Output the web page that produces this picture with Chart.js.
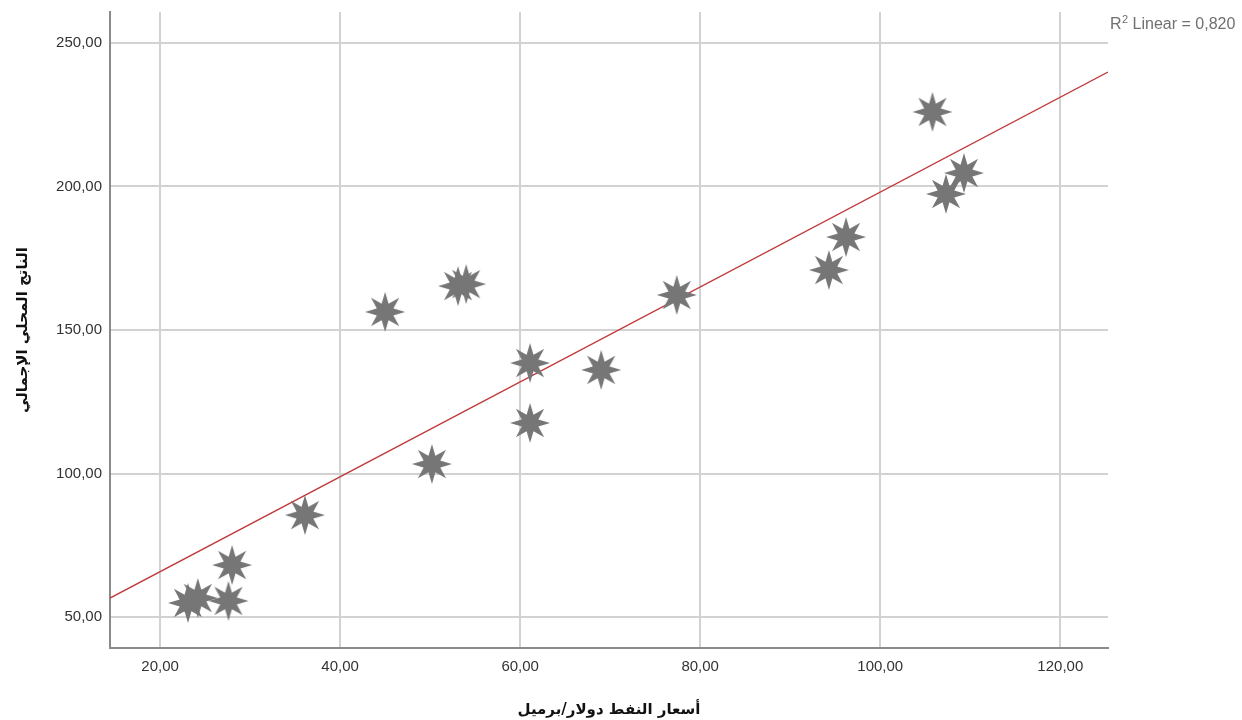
<!DOCTYPE html>
<html>
<head>
<meta charset="utf-8">
<script src="https://cdn.jsdelivr.net/npm/chart.js@4/dist/chart.umd.min.js"></script>
<style>
  html, body { margin: 0; padding: 0; background: #fff; }
  #wrap { width: 1242px; height: 720px; }
</style>
</head>
<body>
<div id="wrap"><canvas id="chart"></canvas></div>
<script>
// oil price (USD/barrel) vs GDP
const oilPrice = [23.1, 24.2, 27.6, 28.0, 36.1, 45.0, 50.2, 53.1, 54.0, 61.1, 61.1, 69.0, 77.4, 94.3, 96.2, 105.8, 107.3, 109.3];
const gdp      = [54.9, 56.6, 55.6, 68.1, 85.5, 156.3, 103.3, 165.3, 166.0, 138.5, 117.6, 136.1, 162.2, 170.9, 182.4, 226.0, 197.4, 204.7];

// fit line ends
const fitX = [14.44, 125.3];
const fitY = [56.6, 239.9];

const xTicks = [20, 40, 60, 80, 100, 120];
const yTicks = [50, 100, 150, 200, 250];

const xTitle = 'أسعار النفط دولار/برميل';
const yTitle = 'الناتج المحلي الإجمالي';
const r2Text = 'Linear = 0,820';

const fmt = v => v.toFixed(2).replace('.', ',');

// 8-point star marker
function makeStar(outer, inner, color) {
  const c = document.createElement('canvas');
  const size = outer * 2 + 2;
  c.width = size; c.height = size;
  const g = c.getContext('2d');
  g.translate(size / 2, size / 2);
  g.beginPath();
  for (let i = 0; i < 16; i++) {
    const r = i % 2 === 0 ? outer : inner;
    const a = -Math.PI / 2 + i * Math.PI / 8;
    const px = Math.cos(a) * r, py = Math.sin(a) * r;
    if (i === 0) g.moveTo(px, py); else g.lineTo(px, py);
  }
  g.closePath();
  g.fillStyle = color;
  g.fill();
  return c;
}
const star = makeStar(20, 9, '#767676');

const r2Label = {
  id: 'r2Label',
  afterDraw(chart) {
    const ctx = chart.ctx;
    ctx.save();
    ctx.fillStyle = '#707070';
    ctx.textBaseline = 'alphabetic';
    ctx.textAlign = 'left';
    let x = 1110, y = 29;
    ctx.font = '16px "Liberation Sans", Arial, sans-serif';
    ctx.fillText('R', x, y);
    x += ctx.measureText('R').width;
    ctx.font = '11px "Liberation Sans", Arial, sans-serif';
    ctx.fillText('2', x + 0.5, y - 6);
    x += ctx.measureText('2').width + 0.5;
    ctx.font = '16px "Liberation Sans", Arial, sans-serif';
    ctx.fillText(' ' + r2Text, x, y);
    ctx.restore();
  }
};

new Chart(document.getElementById('chart'), {
  type: 'scatter',
  data: {
    datasets: [
      {
        type: 'line',
        data: fitX.map((x, i) => ({ x: x, y: fitY[i] })),
        borderColor: '#c0393b',
        borderWidth: 1.3,
        pointRadius: 0,
        fill: false,
        order: 2
      },
      {
        data: oilPrice.map((x, i) => ({ x: x, y: gdp[i] })),
        pointStyle: star,
        pointRadius: 20,
        order: 1
      }
    ]
  },
  options: {
    responsive: true,
    maintainAspectRatio: false,
    animation: false,
    layout: { autoPadding: false, padding: { left: 0, right: 134, top: 12, bottom: 0 } },
    plugins: {
      legend: { display: false },
      tooltip: { enabled: false }
    },
    scales: {
      x: {
        type: 'linear',
        min: 14.44,
        max: 125.3,
        afterBuildTicks: s => { s.ticks = xTicks.map(v => ({ value: v })); },
        afterFit: s => { s.height = 72; s.paddingLeft = 0; s.paddingRight = 0; },
        grid: { color: '#d2d2d2', lineWidth: 2, drawTicks: false },
        border: { color: '#8a8a8a', width: 2 },
        ticks: {
          padding: 10,
          color: '#333',
          font: { family: '"Liberation Sans", Arial, sans-serif', size: 15 },
          callback: v => fmt(v),
          maxRotation: 0
        },
        title: {
          display: true,
          text: xTitle,
          color: '#111',
          font: { family: '"DejaVu Sans", sans-serif', size: 15, weight: 'bold' },
          padding: { top: 0, bottom: 1 }
        }
      },
      y: {
        type: 'linear',
        min: 39.2,
        max: 260.8,
        afterBuildTicks: s => { s.ticks = yTicks.map(v => ({ value: v })); },
        afterFit: s => { s.width = 110; s.paddingTop = 0; s.paddingBottom = 0; },
        grid: { color: '#d2d2d2', lineWidth: 2, drawTicks: false },
        border: { color: '#8a8a8a', width: 2 },
        ticks: {
          padding: 8,
          color: '#333',
          font: { family: '"Liberation Sans", Arial, sans-serif', size: 15 },
          callback: v => fmt(v)
        },
        title: {
          display: true,
          text: yTitle,
          color: '#111',
          font: { family: '"DejaVu Sans", sans-serif', size: 15, weight: 'bold' },
          padding: { top: 14, bottom: 0 }
        }
      }
    }
  },
  plugins: [r2Label]
});
</script>
</body>
</html>
